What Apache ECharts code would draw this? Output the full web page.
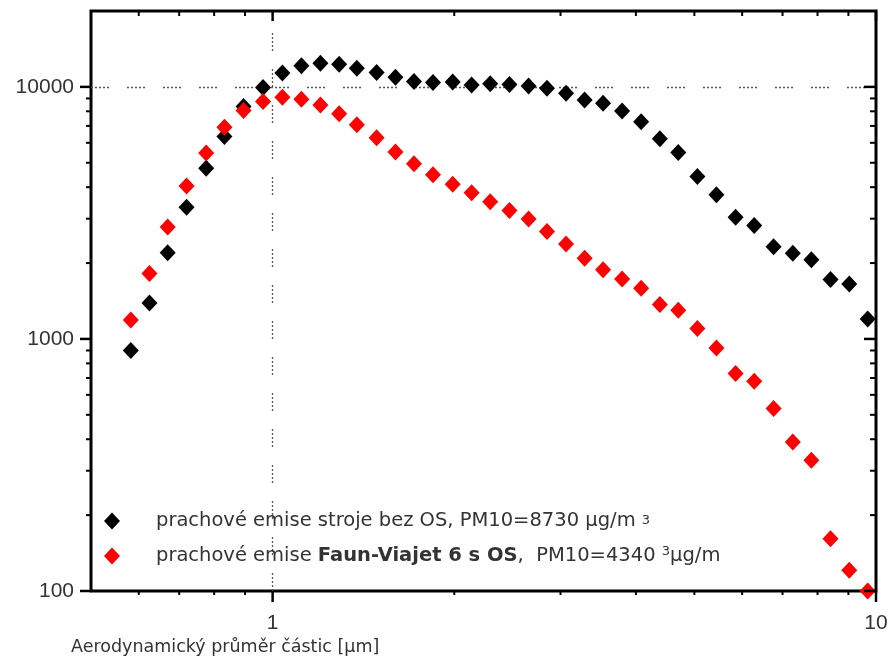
<!DOCTYPE html>
<html>
<head>
<meta charset="utf-8">
<script src="https://cdn.jsdelivr.net/npm/echarts@6/dist/echarts.min.js"></script>
<style>
  html, body { margin: 0; padding: 0; background: #fff; }
  #graf { width: 895px; height: 664px; }
</style>
</head>
<body>
<div id="graf"></div>
<script>
// průměr částic [µm]
const prumery = [0.582, 0.625, 0.670, 0.720, 0.776, 0.832, 0.895, 0.964, 1.038, 1.116,
  1.200, 1.289, 1.379, 1.487, 1.598, 1.715, 1.844, 1.988, 2.137, 2.294,
  2.469, 2.656, 2.849, 3.064, 3.289, 3.529, 3.795, 4.081, 4.383, 4.702,
  5.058, 5.439, 5.852, 6.283, 6.765, 7.280, 7.814, 8.407, 9.030, 9.688];

// stroj bez OS
const emiseBezOS = [900, 1390, 2200, 3330, 4760, 6350, 8350, 9940, 11340, 12120,
  12420, 12310, 11860, 11400, 10930, 10500, 10400, 10450, 10180, 10280,
  10230, 10090, 9880, 9440, 8880, 8620, 8030, 7280, 6220, 5490,
  4410, 3730, 3040, 2820, 2320, 2190, 2060, 1720, 1650, 1200];

// Faun-Viajet 6 s OS
const emiseFaun = [1190, 1820, 2780, 4040, 5460, 6920, 8050, 8740, 9100, 8940,
  8480, 7820, 7070, 6290, 5510, 4950, 4480, 4110, 3800, 3500,
  3230, 2990, 2670, 2380, 2090, 1880, 1730, 1590, 1370, 1300,
  1100, 920, 730, 680, 530, 390, 330, 161, 121, 100];

const nazevBezOS = 'prachové emise stroje bez OS, PM10=8730 µg/m3';
const nazevFaun = 'prachové emise Faun-Viajet 6 s OS, PM10=4340 µg/m3';

// popisky a značky os
const popiskyX = [1, 10];
const popiskyY = [100, 1000, 10000];
const hlavniZnackyX = [1, 10];
const vedlejsiZnackyX = [0.6, 0.7, 0.8, 0.9, 2, 3, 4, 5, 6, 7, 8, 9];
const hlavniZnackyY = [100, 1000, 10000];
const vedlejsiZnackyY = [200, 300, 400, 500, 600, 700, 800, 900,
  2000, 3000, 4000, 5000, 6000, 7000, 8000, 9000];

const jePopisek = (seznam, v) => seznam.some((p) => Math.abs(p - v) < 1e-6 * p);

const bodyBez = prumery.map((d, i) => [d, emiseBezOS[i]]);
const bodyFaun = prumery.map((d, i) => [d, emiseFaun[i]]);

const znackyX = hlavniZnackyX.map((v) => [v, 1000, 1])
  .concat(vedlejsiZnackyX.map((v) => [v, 1000, 0]));
const znackyY = hlavniZnackyY.map((v) => [1, v, 1])
  .concat(vedlejsiZnackyY.map((v) => [1, v, 0]));

// kreslí značky na všech čtyřech stranách rámu
function kresliZnacky(smer) {
  return function (params, api) {
    const cs = params.coordSys;
    const hlavni = api.value(2) === 1;
    const styl = { stroke: '#000', lineWidth: hlavni ? 2.5 : 2 };
    if (smer === 'x') {
      const x = api.coord([api.value(0), 1000])[0];
      const ven = hlavni ? 11 : 4;
      const dovnitr = hlavni ? 10 : 5;
      const dole = cs.y + cs.height;
      return {
        type: 'group',
        children: [
          { type: 'line', shape: { x1: x, y1: dole, x2: x, y2: dole + ven }, style: styl },
          { type: 'line', shape: { x1: x, y1: cs.y, x2: x, y2: cs.y + dovnitr }, style: styl },
        ],
      };
    }
    const y = api.coord([1, api.value(1)])[1];
    const ven = hlavni ? 11 : 5;
    const dovnitr = hlavni ? 12 : 6;
    const vpravo = cs.x + cs.width;
    return {
      type: 'group',
      children: [
        { type: 'line', shape: { x1: cs.x, y1: y, x2: cs.x - ven, y2: y }, style: styl },
        { type: 'line', shape: { x1: vpravo, y1: y, x2: vpravo - dovnitr, y2: y }, style: styl },
      ],
    };
  };
}

const tecky = [2, 2, 2, 2, 2, 2, 2, 2, 2, 18];

const myChart = echarts.init(document.getElementById('graf'));

const option = {
  backgroundColor: '#fff',
  animation: false,
  textStyle: { fontFamily: 'Liberation Sans' },
  title: {
    text: 'Aerodynamický průměr částic [µm]',
    left: 71,
    top: 638,
    padding: 0,
    textStyle: { fontFamily: 'DejaVu Sans', fontSize: 17.5, fontWeight: 'normal', color: '#333' },
  },
  grid: {
    left: 91, right: 19, top: 11, bottom: 73,
    show: true, borderColor: '#000', borderWidth: 3,
    outerBoundsMode: 'none',
  },
  legend: {
    orient: 'vertical',
    left: 104,
    top: 511,
    padding: 0,
    itemGap: 14,
    itemWidth: 16,
    itemHeight: 17,
    data: [
      { name: nazevBezOS, icon: 'diamond' },
      { name: nazevFaun, icon: 'diamond' },
    ],
    formatter: (name) => (name === nazevBezOS
      ? '{t|prachové emise stroje bez OS, PM10=8730 µg/m }{s|3}'
      : '{t|prachové emise }{b|Faun-Viajet 6 s OS}{t|,  PM10=4340 }{sup|3}{t|µg/m}'),
    textStyle: {
      padding: [0, 0, 0, 31],
      rich: {
        t: { fontFamily: 'DejaVu Sans', fontSize: 19.5, color: '#333', lineHeight: 22 },
        b: { fontFamily: 'DejaVu Sans', fontSize: 19.5, fontWeight: 'bold', color: '#333', lineHeight: 22 },
        s: { fontFamily: 'DejaVu Sans', fontSize: 13, color: '#333', lineHeight: 22, verticalAlign: 'middle' },
        sup: { fontFamily: 'DejaVu Sans', fontSize: 13, color: '#333', lineHeight: 13, verticalAlign: 'top' },
      },
    },
  },
  xAxis: {
    type: 'log',
    logBase: 10,
    min: 0.5,
    max: 10,
    axisLine: { show: false },
    axisTick: { show: false },
    splitLine: { show: false },
    axisLabel: {
      margin: 22,
      fontSize: 21,
      color: '#333',
      fontFamily: 'Liberation Sans',
      formatter: (v) => (jePopisek(popiskyX, v) ? String(Math.round(v)) : ''),
    },
  },
  yAxis: {
    type: 'log',
    logBase: 10,
    min: 100,
    max: 20000,
    axisLine: { show: false },
    axisTick: { show: false },
    splitLine: { show: false },
    axisLabel: {
      margin: 17,
      fontSize: 21,
      color: '#333',
      fontFamily: 'Liberation Sans',
      formatter: (v) => (jePopisek(popiskyY, v) ? String(Math.round(v)) : ''),
    },
  },
  series: [
    {
      name: nazevBezOS,
      type: 'scatter',
      symbol: 'diamond',
      symbolSize: [16, 17],
      itemStyle: { color: '#000', opacity: 1 },
      data: bodyBez,
      z: 3,
      markLine: {
        silent: true,
        z: 1,
        symbol: 'none',
        label: { show: false },
        lineStyle: { color: '#555', width: 1.3, type: tecky },
        data: [{ xAxis: 1 }, { yAxis: 10000 }],
      },
    },
    {
      name: nazevFaun,
      type: 'scatter',
      symbol: 'diamond',
      symbolSize: [16, 17],
      itemStyle: { color: '#ff0000', opacity: 1 },
      data: bodyFaun,
      z: 4,
    },
    {
      type: 'custom',
      silent: true,
      clip: false,
      renderItem: kresliZnacky('x'),
      data: znackyX,
      z: 5,
    },
    {
      type: 'custom',
      silent: true,
      clip: false,
      renderItem: kresliZnacky('y'),
      data: znackyY,
      z: 5,
    },
  ],
};

myChart.setOption(option);
</script>
</body>
</html>
